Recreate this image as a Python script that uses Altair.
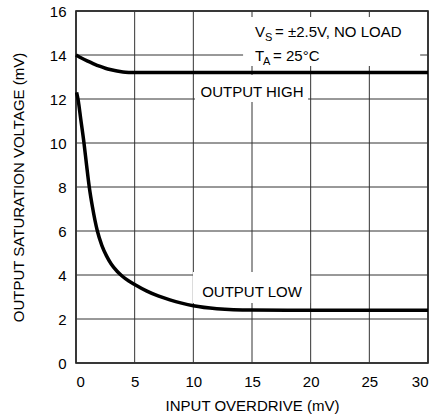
import altair as alt
import pandas as pd

# OUTPUT HIGH curve
high_x = [0, 0.5, 1, 1.5, 2, 2.5, 3, 3.5, 4, 4.5, 5, 10, 15, 20, 25, 30]
high_y = [14.0, 13.85, 13.72, 13.6, 13.49, 13.4, 13.33, 13.27, 13.23, 13.21, 13.2, 13.2, 13.2, 13.2, 13.2, 13.2]

# OUTPUT LOW curve
low_x = [0.05, 0.2, 0.4, 0.68, 0.9, 1.13, 1.4, 1.82, 2.2, 2.6, 3.0, 3.5, 4.0, 4.5, 5, 6, 7, 8, 9, 10, 12, 15, 20, 25, 30]
low_y = [12.3, 11.9, 11.1, 10.0, 9.0, 8.0, 7.1, 6.0, 5.35, 4.87, 4.5, 4.17, 3.92, 3.73, 3.57, 3.28, 3.05, 2.87, 2.72, 2.6, 2.47, 2.41, 2.4, 2.4, 2.4]

x_ticks = [0, 5, 10, 15, 20, 25, 30]
y_ticks = [0, 2, 4, 6, 8, 10, 12, 14, 16]

FONT = "Liberation Sans"

high_df = pd.DataFrame({"x": high_x, "y": high_y})
low_df = pd.DataFrame({"x": low_x, "y": low_y})
xgrid_df = pd.DataFrame({"x": x_ticks})
ygrid_df = pd.DataFrame({"y": y_ticks})

xs = alt.Scale(domain=[0, 30], nice=False, zero=False)
ys = alt.Scale(domain=[0, 16], nice=False, zero=False)

x_axis = alt.Axis(values=x_ticks, title="INPUT OVERDRIVE (mV)",
                  titlePadding=9, labelPadding=11, grid=False)
y_axis = alt.Axis(values=y_ticks, title="OUTPUT SATURATION VOLTAGE (mV)",
                  titlePadding=23, labelPadding=10, grid=False)
base_x = alt.X("x:Q", scale=xs, axis=x_axis)
base_y = alt.Y("y:Q", scale=ys, axis=y_axis)

xgrid = alt.Chart(xgrid_df).mark_rule(color="#333333", strokeWidth=1).encode(x=base_x)
ygrid = alt.Chart(ygrid_df).mark_rule(color="#333333", strokeWidth=1).encode(y=base_y)

# white label backgrounds (annotation boxes, data units)
boxes = pd.DataFrame({
    "x": [10.14, 9.97, 14.24],
    "x2": [19.78, 19.95, 29.33],
    "y": [11.86, 2.73, 13.5],
    "y2": [13.09, 4.14, 15.73],
})
box_layer = alt.Chart(boxes).mark_rect(color="white").encode(
    x=base_x, x2="x2:Q", y=base_y, y2="y2:Q")

high_line = alt.Chart(high_df).mark_line(color="black", strokeWidth=3.5,
                                         interpolate="monotone").encode(x=base_x, y=base_y)
low_line = alt.Chart(low_df).mark_line(color="black", strokeWidth=3.5,
                                       interpolate="monotone").encode(x=base_x, y=base_y)

# annotations
labels = pd.DataFrame({
    "x": [15.0, 15.0],
    "y": [12.34, 3.23],
    "t": ["OUTPUT HIGH", "OUTPUT LOW"],
})
ann_main = pd.DataFrame({
    "x": [15.26, 15.26],
    "y": [14.82, 13.73],
    "t": ["V", "T"],
})
ann_sub = pd.DataFrame({
    "x": [15.26, 15.26],
    "y": [14.82, 13.73],
    "t": ["S", "A"],
})
ann_rest = pd.DataFrame({
    "x": [15.26, 15.26],
    "y": [14.82, 13.73],
    "t": ["= ±2.5V, NO LOAD", "= 25°C"],
})


def txt(df, size, dx=0, dy=0, align="left", baseline="alphabetic"):
    return alt.Chart(df).mark_text(
        font=FONT, fontSize=size, align=align, baseline=baseline, dx=dx, dy=dy, color="black"
    ).encode(x=base_x, y=base_y, text="t:N")


text_layers = [
    txt(labels, 15, align="center", baseline="middle"),
    txt(ann_main.iloc[[0]], 15),
    txt(ann_sub.iloc[[0]], 11, dx=10, dy=4),
    txt(ann_rest.iloc[[0]], 15, dx=20),
    txt(ann_main.iloc[[1]], 15),
    txt(ann_sub.iloc[[1]], 11, dx=8, dy=4),
    txt(ann_rest.iloc[[1]], 15, dx=18),
]

chart = alt.layer(xgrid, ygrid, box_layer, high_line, low_line, *text_layers).properties(
    width=352, height=352,
    background="white",
    autosize=alt.AutoSizeParams(type="none"),
    padding={"left": 76, "top": 11, "right": 10, "bottom": 56},
).configure_view(
    stroke="black", strokeWidth=1.5
).configure_axis(
    domain=False, ticks=False,
    labelFont=FONT, labelFontSize=15, labelColor="black",
    titleFont=FONT, titleFontSize=15, titleFontWeight="normal", titleColor="black",
)

chart.save("out.html", embed_options={"renderer": "svg", "actions": False})
